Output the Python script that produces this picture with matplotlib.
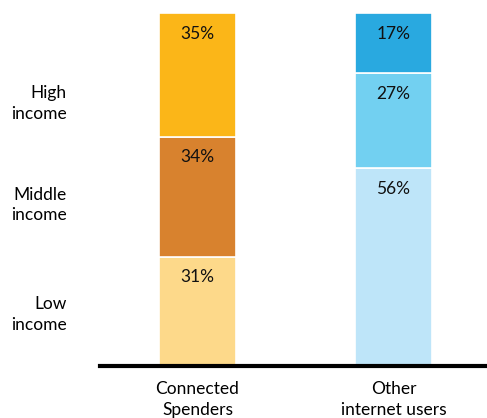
import matplotlib
matplotlib.use('Agg')
import matplotlib.pyplot as plt
import numpy as np

plt.rcParams['font.family'] = ['Lato', 'DejaVu Sans']

groups = ['Connected\nSpenders', 'Other\ninternet users']
low = [31, 56]
middle = [34, 27]
high = [35, 17]
income_labels = ['Low\nincome', 'Middle\nincome', 'High\nincome']
income_pos = [15.6, 46.7, 75.4]

left_colors = ['#FDD98A', '#D8822E', '#FBB618']
right_colors = ['#BEE5F9', '#72D0F1', '#29A9E0']

fig = plt.figure(figsize=(4.87, 4.18), dpi=100)
ax = fig.add_axes([100 / 487, 52 / 418, 387 / 487, 353 / 418])

x = np.arange(len(groups))
w = 0.393
bottom = np.zeros(2)
for i, seg in enumerate([low, middle, high]):
    cols = [left_colors[i], right_colors[i]]
    ax.bar(x, seg, w, bottom=bottom, color=cols, edgecolor='white', linewidth=1.2)
    for xi, b, v in zip(x, bottom, seg):
        ax.annotate(f'{v}%', (xi, b + v), xytext=(0, -15), textcoords='offset points',
                    ha='center', va='center', fontsize=12.5, color='#111111')
    bottom += seg

ax.set_xlim(-0.497, 1.477)
ax.set_ylim(0, 100)
ax.set_xticks(x)
ax.set_xticklabels(groups, fontsize=12.5, linespacing=1.35)
ax.set_yticks(income_pos)
ax.set_yticklabels(income_labels, fontsize=12.5, linespacing=1.35, multialignment='right')
ax.tick_params(axis='both', length=0)
ax.tick_params(axis='x', pad=11)
ax.tick_params(axis='y', pad=24)
for s in ['top', 'right', 'left']:
    ax.spines[s].set_visible(False)
ax.spines['bottom'].set_linewidth(3)
ax.spines['bottom'].set_color('black')

fig.savefig('out.png', dpi=100)
